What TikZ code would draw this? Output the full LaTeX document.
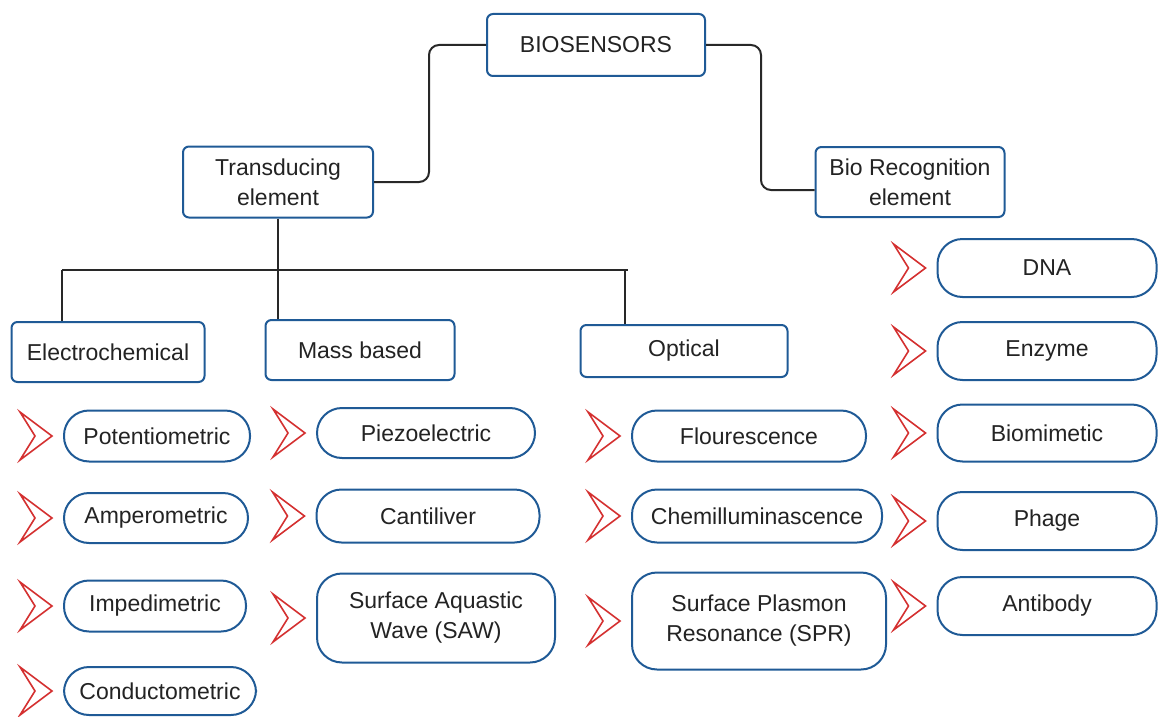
\documentclass[tikz,border=0pt]{standalone}
\usepackage{fontspec}
\setmainfont{Liberation Sans}
\usepackage{tikz}
\usetikzlibrary{positioning,calc}
\definecolor{bsBlue}{RGB}{31,90,150}
\definecolor{bsRed}{RGB}{212,48,48}
\definecolor{bsInk}{RGB}{35,35,35}
\definecolor{bsLine}{RGB}{40,40,40}

\begin{document}
\begin{tikzpicture}[
    x=1pt, y=-1pt,
    group/.style={draw=bsBlue, line width=2pt, rounded corners=6pt, fill=white, align=center,
      inner sep=0pt, text=bsInk, font=\fontsize{23}{30}\selectfont},
    item/.style={group, rounded corners=25pt, minimum height=51pt},
    link/.style={draw=bsLine, line width=2pt, rounded corners=10pt},
    chev/.style={draw=bsRed, line width=1.6pt, line join=miter}
  ]
    \useasboundingbox (0,0) rectangle (1159,717);

    % top level
    \node[group, minimum width=218pt, minimum height=62pt] (bio) at (596,45) {BIOSENSORS};
    \node[group, minimum width=190pt, minimum height=71pt] (trans) at (278,182) {Transducing\\element};
    \node[group, minimum width=189pt, minimum height=70pt] (rec) at (910,182) {Bio Recognition\\element};
    \draw[link] (bio.west) -- ++(-57,0) |- (trans.east);
    \draw[link] (bio.east) -- ++(55,0) |- ([yshift=-8pt]rec.west);

    % transducer classes
    \node[group, minimum width=193pt, minimum height=60pt] (elec) at (108,352) {Electrochemical};
    \node[group, minimum width=189pt, minimum height=60pt] (mass) at (360,350) {Mass based};
    \node[group, minimum width=207pt, minimum height=52pt] (opt) at (684,351) {Optical};
    \coordinate (hub) at (278,270);
    \coordinate (barL) at (62,270);
    \coordinate (barR) at (628,270);
    \draw[link] (trans.south) -- (hub);
    \draw[link, rounded corners=0pt] (barL) -- (barR);
    \draw[link] (barL) -- (barL |- elec.north);
    \draw[link] (hub) -- (hub |- mass.north);
    \draw[link] ([xshift=-3pt]barR) -- ([xshift=-3pt]barR |- opt.north);

    % electrochemical
    \node[item, minimum width=186pt] (pot) at (157,436) {Potentiometric};
    \node[item, minimum width=184pt, minimum height=50pt] (amp) at (156,518) {Amperometric};
    \node[item, minimum width=182pt] (imp) at (155,606) {Impedimetric};
    \node[item, minimum width=192pt, minimum height=48pt] (con) at (160,691) {Conductometric};

    % mass based
    \node[item, minimum width=218pt, minimum height=50pt] (pie) at (426,433) {Piezoelectric};
    \node[item, minimum width=223pt, minimum height=53pt] (can) at (428,516) {Cantiliver};
    \node[item, minimum width=238pt, minimum height=89pt] (saw) at (436,618) {Surface Aquastic\\Wave (SAW)};

    % optical
    \node[item, minimum width=234pt] (flo) at (749,436) {Flourescence};
    \node[item, minimum width=250pt, minimum height=53pt] (che) at (757,516) {Chemilluminascence};
    \node[item, minimum width=254pt, minimum height=97pt] (spr) at (759,621) {Surface Plasmon\\Resonance (SPR)};

    % recognition elements
    \node[item, minimum width=219pt, minimum height=58pt] (dna) at (1047,268) {DNA};
    \node[item, minimum width=219pt, minimum height=58pt] (enz) at (1047,351) {Enzyme};
    \node[item, minimum width=219pt, minimum height=57pt] (bmm) at (1047,433) {Biomimetic};
    \node[item, minimum width=219pt, minimum height=58pt] (pha) at (1047,521) {Phage};
    \node[item, minimum width=219pt, minimum height=58pt] (ant) at (1047,606) {Antibody};

    % bullet chevrons
    \foreach \n in {pot,amp,imp,con,pie,can,saw,flo,che,spr,dna,enz,bmm,pha,ant}
      \draw[chev] ($(\n.west)+(-43,-24)$) -- ($(\n.west)+(-11,0)$)
        -- ($(\n.west)+(-43,24)$) -- ($(\n.west)+(-28,0)$) -- cycle;
  \end{tikzpicture}
\end{document}
